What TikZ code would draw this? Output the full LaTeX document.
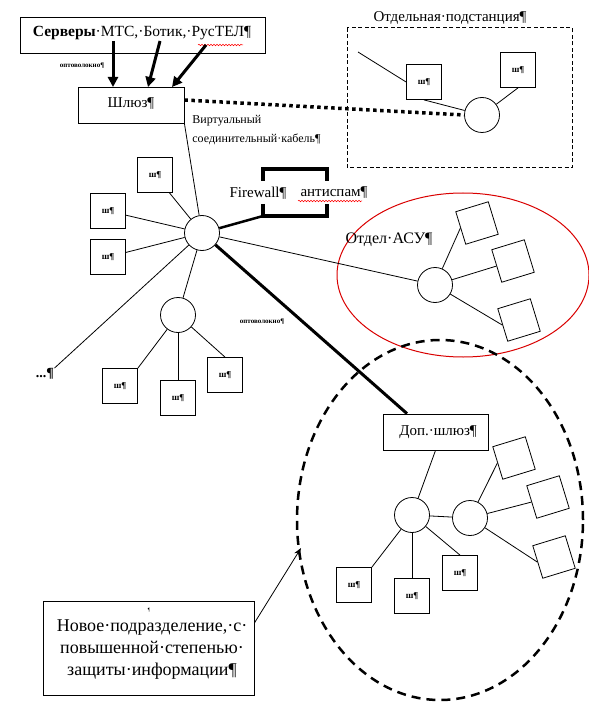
\documentclass[tikz,border=0pt]{standalone}
\usepackage{fontspec}
\setmainfont{Liberation Serif}
\usetikzlibrary{arrows.meta,decorations.pathmorphing}
\begin{document}
\begin{tikzpicture}[x=1pt,y=-1pt,line width=0.8pt,
  boxnode/.style={draw,rectangle,inner sep=0pt},
  sqnode/.style={draw,rectangle,minimum size=35pt,inner sep=0pt,font=\fontsize{9}{10}\selectfont\bfseries},
  rsq/.style={draw,rectangle,minimum size=34pt,inner sep=0pt},
  hub/.style={draw,circle,minimum size=35pt,inner sep=0pt},
  fiber/.style={line width=3pt,-{Triangle[length=10pt,width=10pt]}},
  tinylbl/.style={font=\fontsize{7}{7}\selectfont\bfseries},
  txt/.style={font=\fontsize{15}{17}\selectfont,inner sep=0pt},
  spell/.style={draw=red,line width=0.5pt,decorate,decoration={snake,amplitude=0.8pt,segment length=3pt}}]
\useasboundingbox (0,0) rectangle (588,708);
% servers
\node[boxnode,minimum width=245pt,minimum height=36pt] (srv) at (142.5,35) {};
\node[txt,font=\fontsize{15.5}{17}\selectfont] (srvt) at (142,33) {\textbf{Серверы}·МТС,·Ботик,·РусТЕЛ¶};
\draw[spell] (198,45) -- (243,45);
\node[boxnode,minimum width=106pt,minimum height=36pt] (gw) at (131,105) {};
\node[txt] (gwt) at (131,104) {Шлюз¶};
\coordinate (s1) at (113,41); \coordinate (g1) at (113,87);
\coordinate (s2) at (160,41); \coordinate (g2) at (148,87);
\coordinate (s3) at (206,45); \coordinate (g3) at (172,87);
\draw[fiber] (s1) -- (g1);
\draw[fiber] (s2) -- (g2);
\draw[fiber] (s3) -- (g3);
\node[tinylbl] (of1) at (82,66) {оптоволокно¶};
% substation
\draw[dash pattern=on 4pt off 2.5pt,line width=1pt] (347,28) rectangle (572,168);
\node[txt] (subl) at (450,18) {Отдельная·подстанция¶};
\node[sqnode] (ss1) at (424,82) {ш¶};
\node[sqnode] (ss2) at (518,70) {ш¶};
\node[hub] (sh) at (482,115) {};
\coordinate (sfree) at (358,52);
\draw (sfree) -- (ss1.west);
\draw (ss1.south) -- (sh);
\draw (sh) -- (ss2.south);
\draw[line width=3.5pt,dash pattern=on 3.5pt off 3.5pt] (gw.east |- 0,100) -- (sh.west);
\node[anchor=west,font=\fontsize{12}{19}\selectfont,inner sep=0pt,align=left] (virt) at (192,130) {Виртуальный\\соединительный·кабель¶};
% central hub
\node[hub] (h) at (202,233) {};
\draw (gw.south east) -- (h);
\node[sqnode] (a1) at (155,175) {ш¶};
\node[sqnode] (a2) at (108,211) {ш¶};
\node[sqnode] (a3) at (108,257) {ш¶};
\draw (a1) -- (h); \draw (a2) -- (h); \draw (a3) -- (h);
% dots
\node[txt,font=\fontsize{14}{15}\selectfont\bfseries] (dots) at (45,374) {...¶};
\draw (h) -- (dots.north east);
% sub hub
\node[hub] (sub) at (178,315) {};
\draw (h) -- (sub);
\node[sqnode] (b1) at (120,386) {ш¶};
\node[sqnode] (b2) at (178,398) {ш¶};
\node[sqnode] (b3) at (225,375) {ш¶};
\draw (sub) -- (b1.north east);
\draw (sub.south) -- (b2.north);
\draw (sub) -- (b3.north);
\node[tinylbl] (of2) at (262,322) {оптоволокно¶};
% firewall
\draw[line width=4pt] (263,181) -- (263,169) -- (327,169) -- (327,181);
\draw[line width=4pt] (263,204) -- (263,216) -- (327,216) -- (327,204);
\coordinate (fw) at (263,216);
\draw[line width=2.5pt] (h) -- (fw);
\node[txt] (fwt) at (258,193) {Firewall¶};
\node[txt] (as) at (334,193) {антиспам¶};
\draw[spell] (298,201) -- (362,201);
% ASU
\draw[red!85!black,line width=1pt] (463,275) ellipse [x radius=126pt,y radius=82pt];
\node[txt,font=\fontsize{16}{18}\selectfont] (asul) at (389,240) {Отдел·АСУ¶};
\node[hub] (asu) at (435,285) {};
\draw (h) -- (asu);
\node[rsq,rotate=17] (r1) at (477,223) {};
\node[rsq,rotate=17] (r2) at (513,261) {};
\node[rsq,rotate=17] (r3) at (519,320) {};
\draw (asu) -- (r1.west);
\draw (asu) -- (r2.west);
\draw (asu) -- (r3.west);
% new department
\draw[line width=2.5pt,dash pattern=on 9pt off 6pt] (440,520) ellipse [x radius=143pt,y radius=180pt];
\node[boxnode,minimum width=105pt,minimum height=36pt] (dgw) at (435.5,432) {};
\node[txt] (dgwt) at (438,432) {Доп.·шлюз¶};
\draw[line width=3pt] (h) -- (dgw.north west -| 407,0);
\node[hub] (c1) at (412,515) {};
\node[hub] (c2) at (470,518) {};
\draw (dgw.south) -- (c1);
\draw (c1) -- (c2);
\node[rsq,rotate=17] (q1) at (514,458) {};
\node[rsq,rotate=17] (q2) at (548,497) {};
\node[rsq,rotate=17] (q3) at (554,557) {};
\draw (c2) -- (q1.west);
\draw (c2) -- (q2.west);
\draw (c2) -- (q3.west);
\node[sqnode] (d1) at (354,585) {ш¶};
\node[sqnode] (d2) at (412,596) {ш¶};
\node[sqnode] (d3) at (460,573) {ш¶};
\draw (c1) -- (d1.north east);
\draw (c1.south) -- (d2.north);
\draw (c1) -- (d3.north);
% note
\node[boxnode,minimum width=211pt,minimum height=94pt] (note) at (148.5,648) {};
\node[font=\fontsize{5}{5}\selectfont,inner sep=0pt] (pm) at (149,610) {¶};
\node[font=\fontsize{18}{22}\selectfont,align=center,inner sep=0pt] (notet) at (152,650) {Новое·подразделение,·с·\\повышенной·степенью·\\защиты·информации¶};
\coordinate (ell) at (301,548);
\draw[-{Stealth[length=8pt,width=6pt]}] (note.east |- 0,623) -- (ell);
\end{tikzpicture}
\end{document}
